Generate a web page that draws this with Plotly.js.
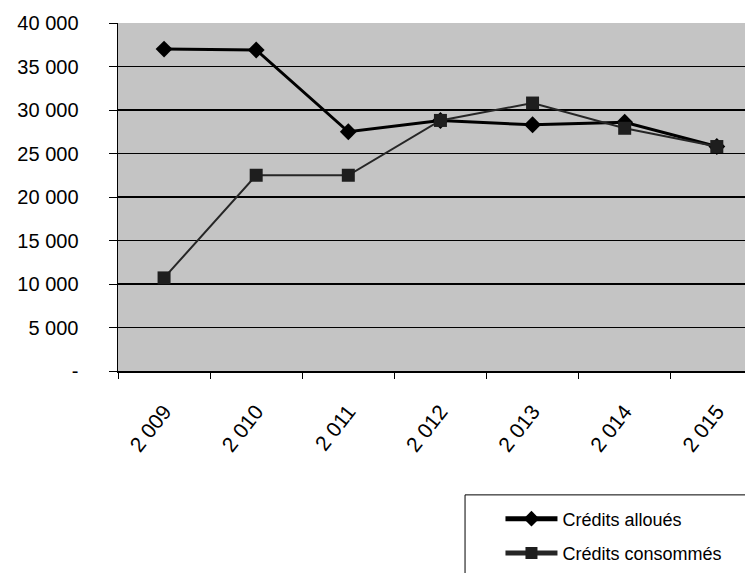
<!DOCTYPE html>
<html>
<head>
<meta charset="utf-8">
<script src="https://cdn.plot.ly/plotly-3.0.1.min.js"></script>
<style>html,body{margin:0;padding:0;background:#fff;overflow:hidden}#chart{width:745px;height:573px}</style>
</head>
<body>
<div id="chart"></div>
<script>
var years = ['2 009', '2 010', '2 011', '2 012', '2 013', '2 014', '2 015'];
var creditsAlloues = [37000, 36900, 27500, 28800, 28300, 28600, 25800];
var creditsConsommes = [10700, 22500, 22500, 28800, 30800, 27900, 25800];
var yTickVals = [0, 5000, 10000, 15000, 20000, 25000, 30000, 35000, 40000];
var yTickText = ['-', '5 000', '10 000', '15 000', '20 000', '25 000', '30 000', '35 000', '40 000'];

var traces = [
  {
    x: years, y: creditsAlloues, name: 'Crédits alloués', type: 'scatter', mode: 'lines+markers',
    legendgroup: 'a',
    line: {color: '#000000', width: 3},
    marker: {symbol: 'diamond', size: 13, color: '#000000'}
  },
  {
    x: years, y: creditsConsommes, name: 'Crédits consommés', type: 'scatter', mode: 'lines+markers',
    legendgroup: 'b',
    line: {color: '#262626', width: 2},
    marker: {symbol: 'square', size: 13, color: '#1e1e1e'}
  }
];

var layout = {
  width: 745, height: 573,
  margin: {l: 118, r: 0, t: 23, b: 202},
  paper_bgcolor: '#ffffff',
  plot_bgcolor: '#c4c4c4',
  font: {family: '"Liberation Sans", Arial, sans-serif', color: '#000', size: 18},
  showlegend: true,
  legend: {
    x: 0.610, y: -0.372, xanchor: 'left', yanchor: 'top',
    bgcolor: 'rgba(0,0,0,0)', borderwidth: 0,
    font: {size: 18, family: '"Liberation Sans", Arial, sans-serif'},
    tracegroupgap: 8, itemwidth: 52, itemsizing: 'constant'
  },
  shapes: [
    {type: 'rect', xref: 'paper', yref: 'paper', x0: 0.5535, x1: 1.05, y0: -0.356, y1: -0.62,
     line: {color: '#000', width: 1}, fillcolor: '#ffffff', layer: 'below'}
  ],
  xaxis: {
    type: 'category',
    range: [-0.5, 6.306],
    tickson: 'boundaries',
    ticks: 'outside', ticklen: 6, tickcolor: '#000', tickwidth: 1,
    showline: true, linecolor: '#000', linewidth: 2,
    showgrid: false, zeroline: false,
    tickangle: -52,
    ticklabelstandoff: 18,
    tickfont: {size: 21}
  },
  yaxis: {
    range: [0, 40000],
    tickmode: 'array', tickvals: yTickVals, ticktext: yTickText,
    ticks: 'outside', ticklen: 8, tickcolor: '#000', tickwidth: 1,
    showline: true, linecolor: '#000', linewidth: 1.5,
    showgrid: true, gridcolor: '#000', gridwidth: 1.5,
    zeroline: false,
    ticklabelstandoff: 26,
    tickfont: {size: 20}
  }
};

Plotly.newPlot('chart', traces, layout, {displayModeBar: false, staticPlot: true});
</script>
</body>
</html>
